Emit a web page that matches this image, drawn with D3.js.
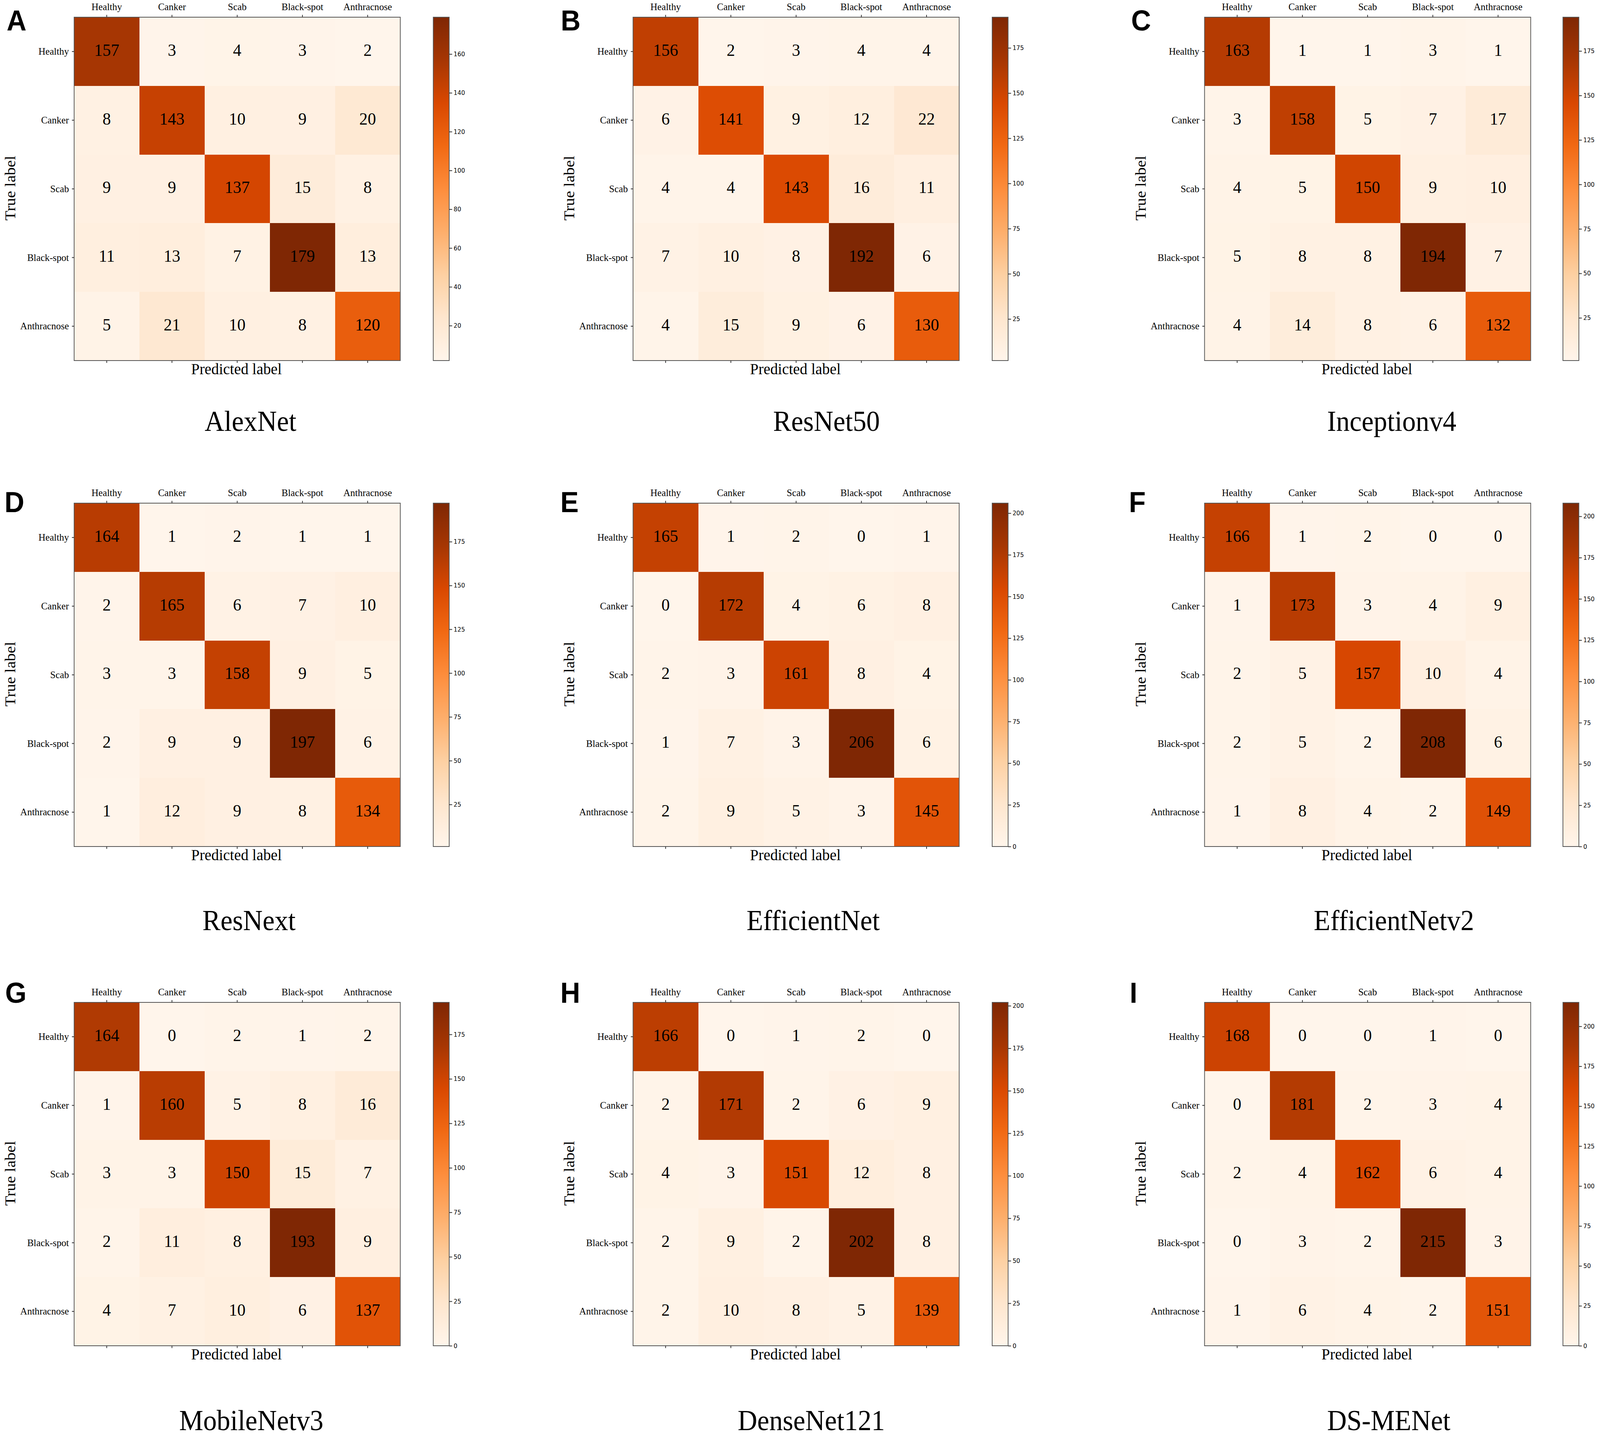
<!DOCTYPE html>
<html>
<head>
<meta charset="utf-8">
<title>Confusion matrices</title>
<script src="https://cdn.jsdelivr.net/npm/d3@7"></script>
<style>
html,body{margin:0;padding:0;background:#fff;overflow:hidden;width:100%;height:100%;}
svg{display:block;position:absolute;left:0;top:0;}
text{font-family:"Liberation Serif","Times New Roman",serif;fill:#000;}
.letter{font-family:"Liberation Sans",Arial,sans-serif;font-weight:700;}
.cbtick text{font-family:"DejaVu Sans",sans-serif;}
</style>
</head>
<body>
<script>
const classes = ["Healthy","Canker","Scab","Black-spot","Anthracnose"];
const letters = ["A","B","C","D","E","F","G","H","I"];
const modelNames = ["AlexNet","ResNet50","Inceptionv4","ResNext","EfficientNet","EfficientNetv2","MobileNetv3","DenseNet121","DS-MENet"];

const alexNet      = [[157,3,4,3,2],[8,143,10,9,20],[9,9,137,15,8],[11,13,7,179,13],[5,21,10,8,120]];
const resNet50     = [[156,2,3,4,4],[6,141,9,12,22],[4,4,143,16,11],[7,10,8,192,6],[4,15,9,6,130]];
const inceptionV4  = [[163,1,1,3,1],[3,158,5,7,17],[4,5,150,9,10],[5,8,8,194,7],[4,14,8,6,132]];
const resNext      = [[164,1,2,1,1],[2,165,6,7,10],[3,3,158,9,5],[2,9,9,197,6],[1,12,9,8,134]];
const efficientNet = [[165,1,2,0,1],[0,172,4,6,8],[2,3,161,8,4],[1,7,3,206,6],[2,9,5,3,145]];
const efficientNetV2 = [[166,1,2,0,0],[1,173,3,4,9],[2,5,157,10,4],[2,5,2,208,6],[1,8,4,2,149]];
const mobileNetV3  = [[164,0,2,1,2],[1,160,5,8,16],[3,3,150,15,7],[2,11,8,193,9],[4,7,10,6,137]];
const denseNet121  = [[166,0,1,2,0],[2,171,2,6,9],[4,3,151,12,8],[2,9,2,202,8],[2,10,8,5,139]];
const dsMENet      = [[168,0,0,1,0],[0,181,2,3,4],[2,4,162,6,4],[0,3,2,215,3],[1,6,4,2,151]];
const matrices = [alexNet,resNet50,inceptionV4,resNext,efficientNet,efficientNetV2,mobileNetV3,denseNet121,dsMENet];

const ticks20  = [20,40,60,80,100,120,140,160];
const ticks25  = [25,50,75,100,125,150,175];
const ticks25z = [0,25,50,75,100,125,150,175];
const ticks25y = [0,25,50,75,100,125,150,175,200];
const colorbarTicks = [ticks20,ticks25,ticks25,ticks25,ticks25y,ticks25y,ticks25z,ticks25y,ticks25y];

// layout (in reference pixels; the viewBox maps them onto whatever the window really is)
const W = 4317, H = 3676;
const colX = [200,1708,3250], rowY = [44,1288,2566];
const mapW = 880, mapH = 879;
const cbX = [1169,2677,4217], cbW = 43;
const letterX = [18,1513,3052,12,1512,3046,14,1512,3048], letterY = [78,1311,2567];
const titleX = [676,2230,3755,672,2194,3761,678,2189,3747];
const titleY = [1103,2381,3661];

const orangeRamp = d3.piecewise(d3.interpolateRgb, d3.schemeOranges[9]);

const svg = d3.select("body").append("svg")
  .attr("width",window.innerWidth||W).attr("height",window.innerHeight||H)
  .attr("viewBox",[0,0,W,H]).attr("preserveAspectRatio","none");
svg.append("rect").attr("width",W).attr("height",H).attr("fill","#fff");
const defs = svg.append("defs");

matrices.forEach((m,idx)=>{
  const col = idx%3, row = Math.floor(idx/3);
  const x0 = colX[col], y0 = rowY[row];
  const flat = m.flat();
  const extent = d3.extent(flat);
  const color = d3.scaleSequential(orangeRamp).domain(extent);

  const x = d3.scaleBand().domain(classes).range([x0,x0+mapW]);
  const y = d3.scaleBand().domain(classes).range([y0,y0+mapH]);
  const g = svg.append("g").attr("class","panel");

  classes.forEach((rowName,r)=>{
    const gr = g.append("g");
    gr.selectAll("rect").data(m[r]).join("rect")
      .attr("x",(d,c)=>x(classes[c])).attr("y",y(rowName))
      .attr("width",x.bandwidth()+0.5).attr("height",y.bandwidth()+0.5)
      .attr("fill",d=>color(d)).attr("shape-rendering","crispEdges");
    gr.selectAll("text").data(m[r]).join("text")
      .attr("x",(d,c)=>x(classes[c])+x.bandwidth()/2)
      .attr("y",y(rowName)+y.bandwidth()/2+11)
      .attr("text-anchor","middle").attr("font-size",45).attr("fill","#000")
      .text(d=>d);
  });

  g.append("rect").attr("x",x0).attr("y",y0).attr("width",mapW).attr("height",mapH)
    .attr("fill","none").attr("stroke","#555").attr("stroke-width",2);

  const styleAxis = a => {
    a.select(".domain").remove();
    a.selectAll(".tick line").attr("stroke","#333").attr("stroke-width",2);
    a.selectAll(".tick text").attr("font-size",26).attr("font-family",'"Liberation Serif",serif').attr("fill","#222");
  };
  g.append("g").attr("transform",`translate(0,${y0})`)
    .call(d3.axisTop(x).tickSize(6).tickPadding(12)).call(styleAxis);
  g.append("g").attr("transform",`translate(0,${y0+mapH})`)
    .call(d3.axisBottom(x).tickSize(6).tickFormat("")).call(styleAxis);
  g.append("g").attr("transform",`translate(${x0},0)`)
    .call(d3.axisLeft(y).tickSize(6).tickPadding(8)).call(styleAxis);

  g.append("text").attr("x",x0+mapW/2-2).attr("y",y0+mapH+35)
    .attr("text-anchor","middle").attr("font-size",41).text("Predicted label");
  g.append("text").attr("transform",`translate(${x0-159},${y0+mapH/2-2}) rotate(-90)`)
    .attr("text-anchor","middle").attr("font-size",41).text("True label");

  // colour bar
  const gid = "cb"+idx;
  const grad = defs.append("linearGradient").attr("id",gid).attr("x1",0).attr("x2",0).attr("y1",1).attr("y2",0);
  d3.schemeOranges[9].forEach((c,i)=>grad.append("stop").attr("offset",i/8).attr("stop-color",c));
  const cb = d3.scaleLinear().domain(extent).range([y0+mapH,y0]);
  g.append("rect").attr("x",cbX[col]).attr("y",y0).attr("width",cbW).attr("height",mapH)
    .attr("fill",`url(#${gid})`).attr("stroke","#555").attr("stroke-width",2);
  const axisG = g.append("g").attr("class","cbtick").attr("transform",`translate(${cbX[col]+cbW},0)`)
    .call(d3.axisRight(cb).tickValues(colorbarTicks[idx]).tickSize(8).tickPadding(4));
  axisG.select(".domain").remove();
  axisG.selectAll(".tick line").attr("stroke","#333").attr("stroke-width",2);
  axisG.selectAll(".tick text").attr("font-size",16).attr("font-family",'"DejaVu Sans",sans-serif').attr("fill","#222");

  g.append("text").attr("class","letter").attr("x",letterX[idx]).attr("y",letterY[row])
    .attr("font-size",74).text(letters[idx]);
  g.append("text").attr("x",titleX[idx]).attr("y",titleY[row])
    .attr("text-anchor","middle").attr("font-size",73).text(modelNames[idx]);
});
</script>
</body>
</html>
